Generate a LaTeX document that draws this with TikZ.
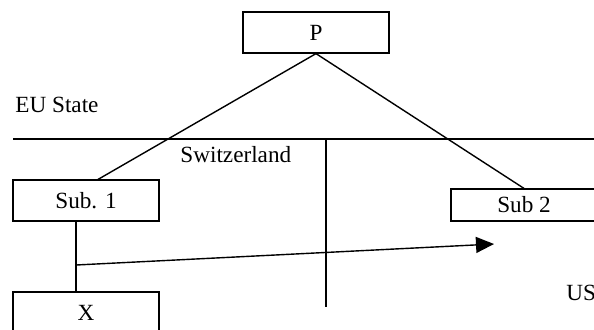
\documentclass[tikz,border=0pt]{standalone}
\usepackage{fontspec}
\setmainfont{Liberation Serif}
\usetikzlibrary{arrows.meta}
\tikzset{
  unit/.style={draw, line width=0.6pt, minimum width=73pt, inner sep=0pt, font=\fontsize{11.6}{14}\selectfont},
  label/.style={inner sep=0pt, font=\fontsize{11.6}{14}\selectfont},
  link/.style={line width=0.7pt}
}

\begin{document}
\begin{tikzpicture}[x=0.5pt, y=-0.5pt]
		%%%%% START %%%%%
		\useasboundingbox (0, 0) rectangle (594, 329);
		\clip (0, 0) rectangle (594, 329);
		
		\node[unit, minimum height=20.5pt] (P) at (316, 32.5) {P};
		\node[unit, minimum height=20.5pt] (sub1) at (86, 200.5) {Sub. 1};
		\node[unit, minimum height=16pt] (sub2) at (524, 205) {Sub 2};
		\node[unit, minimum height=20.5pt] (x) at (86, 312.5) {X};
		
		\node[label, anchor=base west] (eu) at (15, 112) {EU State};
		\node[label, anchor=base west] (ch) at (180, 162) {Switzerland};
		\node[label, anchor=base west] (us) at (566, 300) {US};
		
		% borders
		\coordinate (bw) at (13, 139);
		\coordinate (be) at (594, 139);
		\coordinate (bs) at (326, 307);
		\draw[link] (bw) -- (be);
		\draw[link] (bw -| bs) -- (bs);
		
		% ownership
		\coordinate (s1top) at (97, 180);
		\draw[link] (P.south) -- (s1top);
		\draw[link] (P.south) -- (sub2.north);
		
		\coordinate (fork) at (76, 265);
		\coordinate (tip) at (494, 244);
		\draw[link] (fork |- sub1.south) -- (fork |- x.north);
		\draw[link, -{Triangle[length=9pt, width=8pt]}] (fork) -- (tip);
		
		%%%%% END %%%%%
	\end{tikzpicture}
\end{document}
